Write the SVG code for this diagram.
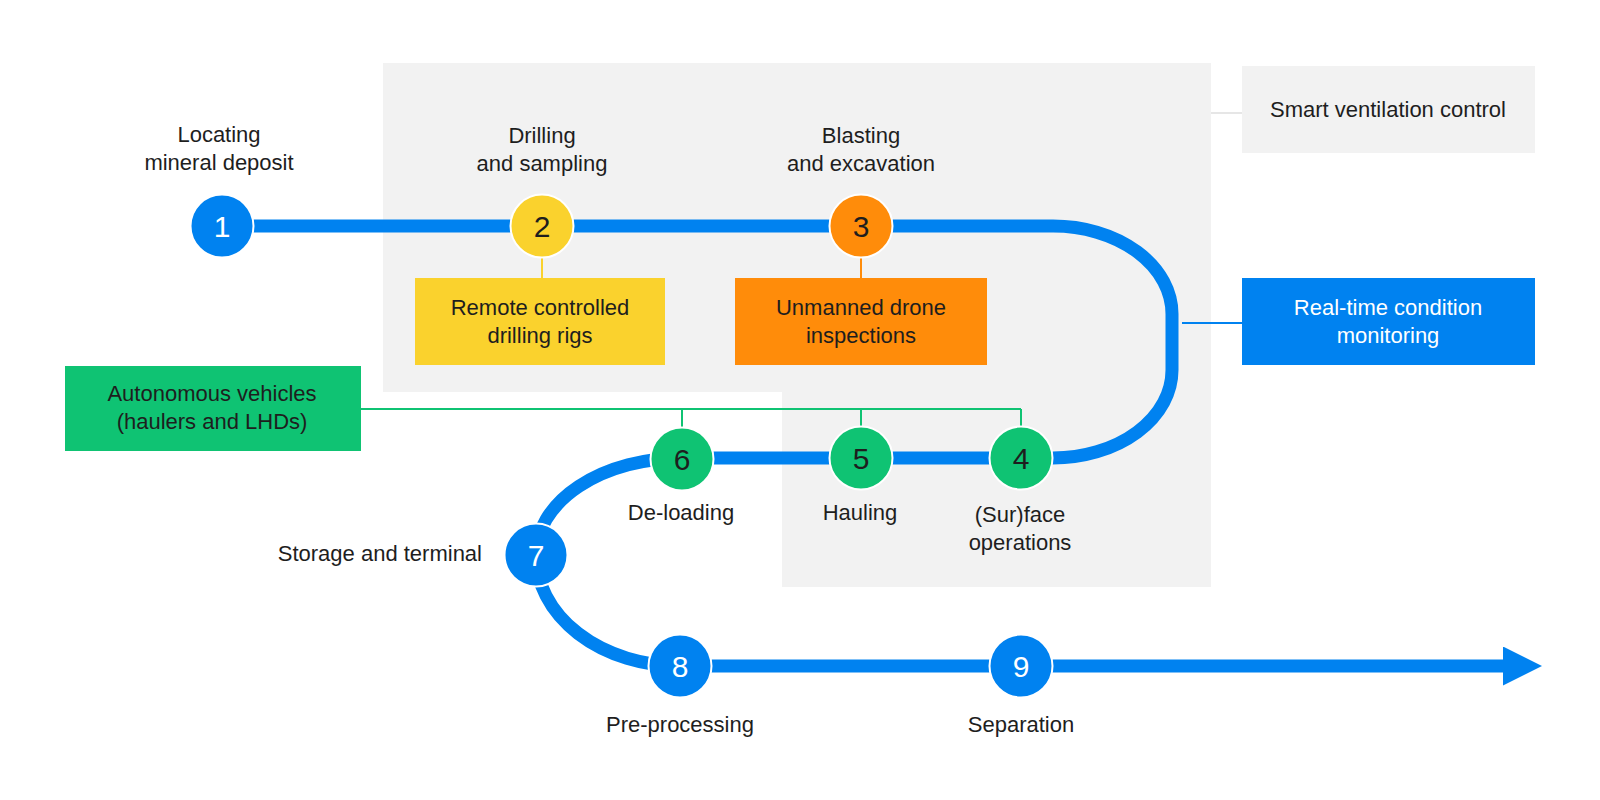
<svg xmlns="http://www.w3.org/2000/svg" width="1600" height="800" viewBox="0 0 1600 800">
<defs>
<style>
.t{font-family:"Liberation Sans",Arial,sans-serif;font-size:22px;fill:#1e1e1e;text-anchor:middle}
.tw{fill:#ffffff}
.d{font-family:"Liberation Sans",Arial,sans-serif;font-size:30px;text-anchor:middle;fill:#1e1e1e}
.dw{fill:#ffffff}
.c{stroke:#ffffff;stroke-width:2}
.blue{fill:#0082f0}
.yellow{fill:#fad22d}
.orange{fill:#ff8c0a}
.green{fill:#0fc373}
.gray{fill:#f2f2f2}
.main{fill:none;stroke:#0082f0;stroke-width:13}
.thin{fill:none;stroke-width:2}
</style>
<marker id="arrow" markerUnits="userSpaceOnUse" markerWidth="40" markerHeight="40" viewBox="0 0 40 40" refX="0" refY="19.5" orient="auto">
<path d="M0,0 L39,19.5 L0,39 Z" fill="#0082f0"/>
</marker>
</defs>
<rect width="1600" height="800" fill="#ffffff"/>
<g id="area">
<path class="gray" d="M383,63 H1211 V587 H782 V392 H383 Z"/>
</g>
<g id="connectors">
<path class="main" d="M222,226 H1053 A119,88 0 0 1 1172,314 V370 A119,88 0 0 1 1053,458 H682 A146,97 0 0 0 536,555 A144,111 0 0 0 680,666 H1503" marker-end="url(#arrow)"/>
<line class="thin" x1="542" y1="258" x2="542" y2="278" stroke="#fad22d"/>
<line class="thin" x1="861" y1="258" x2="861" y2="278" stroke="#ff8c0a"/>
<line class="thin" x1="1211" y1="113" x2="1242" y2="113" stroke="#e6e6e6"/>
<line class="thin" x1="1182" y1="323" x2="1242" y2="323" stroke="#0082f0"/>
<path class="thin" d="M361,409 H1021 M682,409 V427 M861,409 V427 M1021,409 V427" stroke="#0fc373"/>
</g>
<g id="step1">
<circle class="blue c" cx="222" cy="226" r="31.5"/>
<text class="d dw" x="222" y="237">1</text>
<text class="t" x="219" y="142">Locating</text>
<text class="t" x="219" y="170">mineral deposit</text>
</g>
<g id="step2">
<circle class="yellow c" cx="542" cy="226" r="31.5"/>
<text class="d" x="542" y="237">2</text>
<text class="t" x="542" y="143">Drilling</text>
<text class="t" x="542" y="171">and sampling</text>
</g>
<g id="step3">
<circle class="orange c" cx="861" cy="226" r="31.5"/>
<text class="d" x="861" y="237">3</text>
<text class="t" x="861" y="143">Blasting</text>
<text class="t" x="861" y="171">and excavation</text>
</g>
<g id="remote-drilling">
<rect class="yellow" x="415" y="278" width="250" height="87"/>
<text class="t" x="540" y="315">Remote controlled</text>
<text class="t" x="540" y="343">drilling rigs</text>
</g>
<g id="drone">
<rect class="orange" x="735" y="278" width="252" height="87"/>
<text class="t" x="861" y="315">Unmanned drone</text>
<text class="t" x="861" y="343">inspections</text>
</g>
<g id="ventilation">
<rect class="gray" x="1242" y="66" width="293" height="87"/>
<text class="t" x="1388" y="117">Smart ventilation control</text>
</g>
<g id="monitoring">
<rect class="blue" x="1242" y="278" width="293" height="87"/>
<text class="t tw" x="1388" y="315">Real-time condition</text>
<text class="t tw" x="1388" y="343">monitoring</text>
</g>
<g id="autonomous">
<rect class="green" x="65" y="366" width="296" height="85"/>
<text class="t" x="212" y="401">Autonomous vehicles</text>
<text class="t" x="212" y="429">(haulers and LHDs)</text>
</g>
<g id="step4">
<circle class="green c" cx="1021" cy="458" r="31.5"/>
<text class="d" x="1021" y="469">4</text>
<text class="t" x="1020" y="522">(Sur)face</text>
<text class="t" x="1020" y="550">operations</text>
</g>
<g id="step5">
<circle class="green c" cx="861" cy="458" r="31.5"/>
<text class="d" x="861" y="469">5</text>
<text class="t" x="860" y="520">Hauling</text>
</g>
<g id="step6">
<circle class="green c" cx="682" cy="459" r="31.5"/>
<text class="d" x="682" y="470">6</text>
<text class="t" x="681" y="520">De-loading</text>
</g>
<g id="step7">
<circle class="blue c" cx="536" cy="555" r="31.5"/>
<text class="d dw" x="536" y="566">7</text>
<text class="t" x="482" y="561" style="text-anchor:end">Storage and terminal</text>
</g>
<g id="step8">
<circle class="blue c" cx="680" cy="666" r="31.5"/>
<text class="d dw" x="680" y="677">8</text>
<text class="t" x="680" y="732">Pre-processing</text>
</g>
<g id="step9">
<circle class="blue c" cx="1021" cy="666" r="31.5"/>
<text class="d dw" x="1021" y="677">9</text>
<text class="t" x="1021" y="732">Separation</text>
</g>
</svg>
